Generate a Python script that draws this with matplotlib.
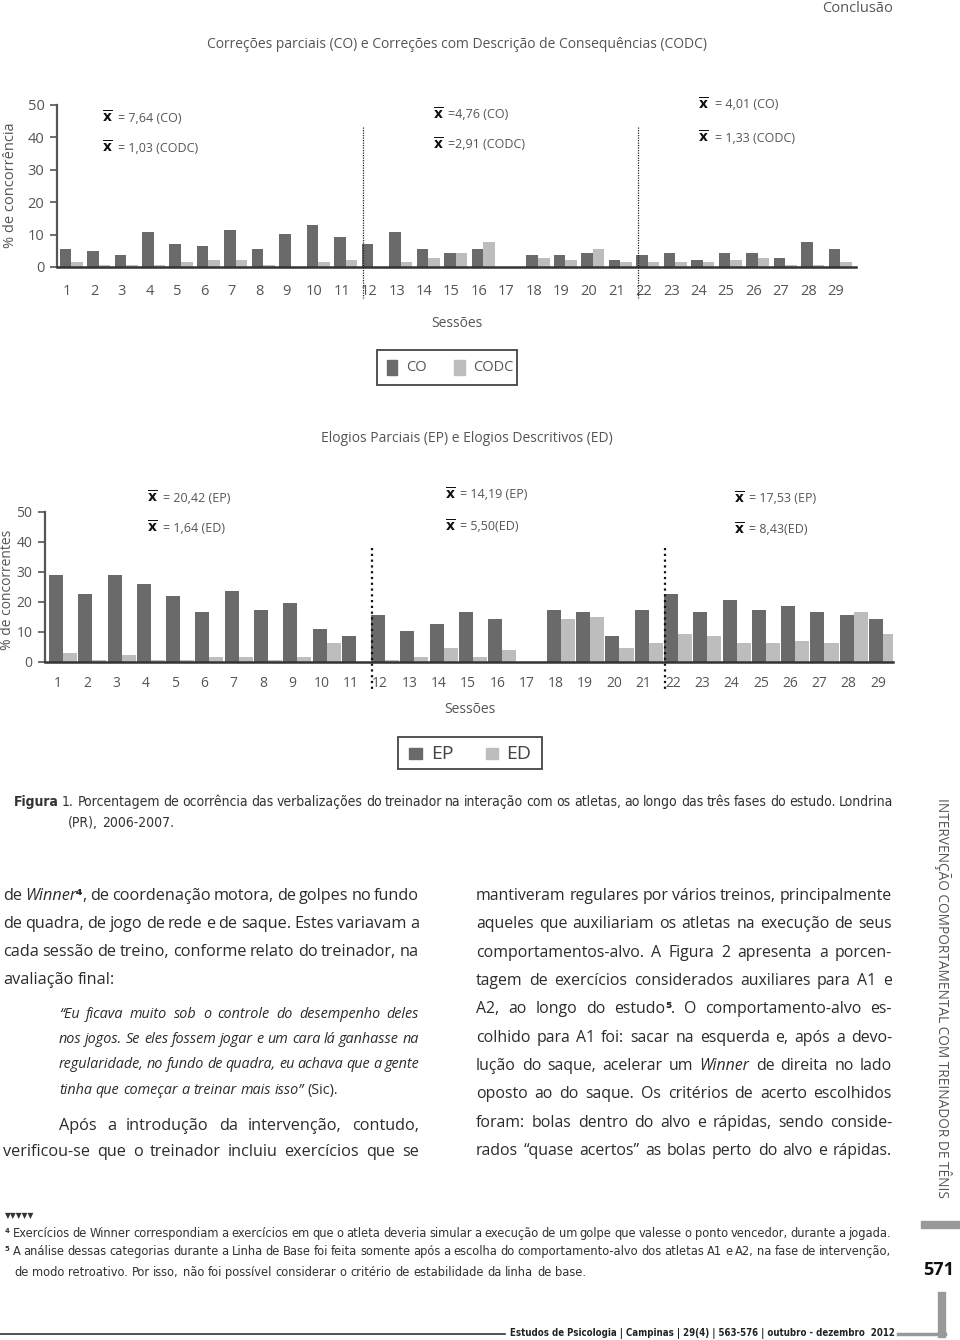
import matplotlib
matplotlib.use('Agg')
import matplotlib.pyplot as plt
from matplotlib import font_manager
from matplotlib.patches import Rectangle
from matplotlib.lines import Line2D
import numpy as np

# ---------------- data ----------------
sessions = list(range(1, 30))
co = [5.7, 4.9, 3.6, 10.7, 7.2, 6.5, 11.4, 5.7, 10.1, 12.9, 9.3, 7.2, 10.7, 5.7, 4.3,
      5.7, 0.0, 3.6, 3.6, 4.3, 2.2, 3.6, 4.3, 2.2, 4.3, 4.3, 2.9, 7.8, 5.7]
codc = [1.5, 0.7, 0.7, 0.7, 1.5, 2.2, 2.2, 0.7, 0.0, 1.5, 2.2, 0.0, 1.5, 2.9, 4.3,
        7.8, 0.0, 2.9, 2.2, 5.7, 1.4, 1.4, 1.4, 1.4, 2.2, 2.9, 0.7, 0.7, 1.4]
ep = [29.0, 22.8, 29.0, 25.9, 21.9, 16.5, 23.6, 17.3, 19.6, 11.0, 8.6, 15.7, 10.2, 12.6, 16.5,
      14.2, 0.0, 17.3, 16.5, 8.6, 17.3, 22.7, 16.5, 20.5, 17.3, 18.8, 16.5, 15.7, 14.2]
ed = [3.1, 0.8, 2.3, 0.8, 0.8, 1.5, 1.5, 0.8, 1.5, 6.2, 0.0, 0.8, 1.5, 4.6, 1.5,
      3.9, 0.0, 14.2, 14.9, 4.6, 6.2, 9.4, 8.6, 6.2, 6.2, 7.0, 6.2, 16.5, 9.4]
yticks = [0, 10, 20, 30, 40, 50]
phase_breaks = [11.5, 21.5]
means_top = [("= 7,64 (CO)", "= 1,03 (CODC)"), ("=4,76 (CO)", "=2,91 (CODC)"), ("= 4,01 (CO)", "= 1,33 (CODC)")]
means_bot = [("= 20,42 (EP)", "= 1,64 (ED)"), ("= 14,19 (EP)", "= 5,50(ED)"), ("= 17,53 (EP)", "= 8,43(ED)")]

W, H = 960, 1340
DARK = '#6a6a6a'
LIGHT = '#bdbdbd'
GRAY = '#555555'
TXT = '#2b2b2b'

avail = {f.name for f in font_manager.fontManager.ttflist}
def pick(*names):
    for n in names:
        if n in avail:
            return n
    return 'DejaVu Sans'
BODY = pick('Open Sans', 'Noto Sans', 'Lato')
FAM = [BODY, 'DejaVu Sans']
if 'Liberation Sans Narrow' in avail:
    COND = dict(family=['Liberation Sans Narrow', 'DejaVu Sans'])
else:
    has_dvc = any(f.name == 'DejaVu Sans' and f.stretch == 'condensed' for f in font_manager.fontManager.ttflist)
    if has_dvc:
        COND = dict(family=['DejaVu Sans'], fontstretch='condensed')
    else:
        COND = dict(family=FAM)

plt.rcParams['font.family'] = FAM
fig = plt.figure(figsize=(W / 100, H / 100), dpi=100)
fig.patch.set_facecolor('white')
renderer = fig.canvas.get_renderer()

def fx(x): return x / W
def fy(y): return 1 - y / H

def T(x, y, s, **kw):
    kw.setdefault('family', FAM)
    return fig.text(fx(x), fy(y), s, **kw)

STY = {'n': {}, 'i': {'style': 'italic'}, 'b': {'weight': 'bold'}}

def measure(s, **kw):
    t = fig.text(0, 0, s, **kw)
    w = t.get_window_extent(renderer).width
    t.remove()
    return w

def parse(segs):
    words, cur = [], []
    for txt, st in segs:
        parts = txt.split(' ')
        for k, p in enumerate(parts):
            if k > 0 and cur:
                words.append(cur)
                cur = []
            if p:
                cur.append((p, st))
    if cur:
        words.append(cur)
    return words

def layout(segs, size, base):
    words = parse(segs)
    pw = [[measure(p, fontsize=size, **base, **STY[st]) for p, st in w] for w in words]
    sp = measure('a a', fontsize=size, **base) - 2 * measure('a', fontsize=size, **base)
    return words, pw, sp

def fit_size(segs, x0, x1, size, base, mingap=0.68):
    while size > 5:
        words, pw, sp = layout(segs, size, base)
        if sum(sum(a) for a in pw) + mingap * sp * (len(words) - 1) <= (x1 - x0):
            break
        size *= 0.985
    return size

def draw(segs, x0, x1, y, size, just, base, color):
    words, pw, sp = layout(segs, size, base)
    total = sum(sum(a) for a in pw)
    gap = (x1 - x0 - total) / (len(words) - 1) if (just and len(words) > 1) else sp
    x = x0
    for w, a in zip(words, pw):
        for (p, st), pwid in zip(w, a):
            fig.text(fx(x), fy(y), p, fontsize=size, va='baseline', ha='left', color=color, **base, **STY[st])
            x += pwid
        x += gap

def block(specs, size, base=None, color=TXT):
    """specs: list of (segs, x0, x1, y, justify). Uniform font size across the block."""
    base = dict(base or dict(family=FAM))
    s = size
    for segs, x0, x1, y, just in specs:
        if just:
            s = min(s, fit_size(segs, x0, x1, size, base))
    for segs, x0, x1, y, just in specs:
        draw(segs, x0, x1, y, s, just, base, color)

def fit(s, x0, x1, y, size, base=None, color=TXT, **kw):
    base = dict(base or dict(family=FAM))
    w = measure(s, fontsize=size, **base, **kw)
    size = size * (x1 - x0) / w
    return fig.text(fx(x0), fy(y), s, fontsize=size, va='baseline', ha='left', color=color, **base, **kw)

# ---------------- header ----------------
T(893, 8, "Conclusão", ha='right', va='center', fontsize=10.5, color=GRAY)
T(457, 45, "Correções parciais (CO) e Correções com Descrição de Consequências (CODC)",
  ha='center', va='center', fontsize=10, color=GRAY)

def style_axes(ax, ls):
    for s in ('top', 'right'):
        ax.spines[s].set_visible(False)
    ax.spines['left'].set_color('#555555')
    ax.spines['left'].set_linewidth(1.6)
    ax.spines['bottom'].set_color('#333333')
    ax.spines['bottom'].set_linewidth(1.8)
    ax.set_ylim(0, 50)
    ax.set_yticks(yticks)
    ax.set_xticks(sessions)
    ax.set_xticklabels([str(s) for s in sessions])
    ax.tick_params(axis='x', length=0, labelsize=ls, labelcolor=GRAY)
    ax.tick_params(axis='y', length=5, width=1.2, color='#555555', labelsize=ls, labelcolor=GRAY, pad=4)
    ax.set_facecolor('none')

# ---------------- chart 1 ----------------
ax1 = fig.add_axes([fx(57), fy(267), (856 - 57) / W, (267 - 105) / H])
x = np.array(sessions, dtype=float)
w1 = 0.42
ax1.bar(x - 0.06, co, width=w1, color=DARK, label='CO')
ax1.bar(x - 0.06 + w1, codc, width=w1, color=LIGHT, label='CODC')
style_axes(ax1, 10.5)
ax1.set_xlim(0.636, 29.73)
ax1.tick_params(axis='x', pad=12)
for b in phase_breaks:
    ax1.plot([b + 0.28, b + 0.28], [43.2, -9.6], color='#222222', lw=0.9, ls=(0, (1, 1)), clip_on=False)
T(11, 185, "% de concorrência", rotation=90, ha='center', va='center', fontsize=10.5, color=GRAY)
for (xs, xt, ya, yb), (ta, tb) in zip([(107, 118, 118, 148), (438, 448, 115, 145), (703, 715, 105, 138)], means_top):
    T(xs, ya, r'$\overline{\mathbf{x}}$', ha='center', va='center', fontsize=10, color='#111111')
    T(xs, yb, r'$\overline{\mathbf{x}}$', ha='center', va='center', fontsize=10, color='#111111')
    T(xt, ya, ta, ha='left', va='center', fontsize=9, color=GRAY)
    T(xt, yb, tb, ha='left', va='center', fontsize=9, color=GRAY)
T(457, 324, "Sessões", ha='center', va='center', fontsize=10, color=GRAY)
fig.add_artist(Rectangle((fx(377), fy(385)), 140 / W, 35 / H, transform=fig.transFigure,
                         fill=False, edgecolor='#444444', lw=1.3))
fig.add_artist(Rectangle((fx(387), fy(375)), 10 / W, 15 / H, transform=fig.transFigure, color=DARK))
fig.add_artist(Rectangle((fx(454), fy(375)), 11 / W, 15 / H, transform=fig.transFigure, color=LIGHT))
T(406, 368, "CO", ha='left', va='center', fontsize=10.5, color=GRAY)
T(473, 368, "CODC", ha='left', va='center', fontsize=10.5, color=GRAY)

# ---------------- chart 2 ----------------
T(467, 438, "Elogios Parciais (EP) e Elogios Descritivos (ED)", ha='center', va='center', fontsize=10, color=GRAY)
ax2 = fig.add_axes([fx(45), fy(662), (893 - 45) / W, 150 / H])
w2 = 0.48
ax2.bar(x - 0.07, ep, width=w2, color=DARK, label='EP')
ax2.bar(x - 0.07 + w2, ed, width=w2, color=LIGHT, label='ED')
style_axes(ax2, 10)
ax2.set_xlim(0.556, 29.51)
ax2.tick_params(axis='x', pad=10)
for b in phase_breaks:
    ax2.plot([b + 0.22, b + 0.22], [38, -9.3], color='#111111', lw=1.6, ls=(0, (1, 1.6)), clip_on=False)
T(8, 590, "% de concorrentes", rotation=90, ha='center', va='center', fontsize=10, color=GRAY)
for (xs, xt, ya, yb), (ta, tb) in zip([(152, 163, 498, 528), (450, 460, 495, 527), (739, 749, 499, 530)], means_bot):
    T(xs, ya, r'$\overline{\mathbf{x}}$', ha='center', va='center', fontsize=10, color='#111111')
    T(xs, yb, r'$\overline{\mathbf{x}}$', ha='center', va='center', fontsize=10, color='#111111')
    T(xt, ya, ta, ha='left', va='center', fontsize=9, color=GRAY)
    T(xt, yb, tb, ha='left', va='center', fontsize=9, color=GRAY)
T(470, 709, "Sessões", ha='center', va='center', fontsize=10, color=GRAY)
fig.add_artist(Rectangle((fx(398), fy(769)), 144 / W, 32 / H, transform=fig.transFigure,
                         fill=False, edgecolor='#444444', lw=1.3))
fig.add_artist(Rectangle((fx(409), fy(759)), 13 / W, 11 / H, transform=fig.transFigure, color=DARK))
fig.add_artist(Rectangle((fx(486), fy(759)), 12 / W, 11 / H, transform=fig.transFigure, color=LIGHT))
T(431, 754, "EP", ha='left', va='center', fontsize=14, color='#444444')
T(506, 754, "ED", ha='left', va='center', fontsize=14, color='#444444')

# ---------------- caption ----------------
block([([("Figura", 'b'), (" 1. Porcentagem de ocorrência das verbalizações do treinador na interação com os atletas, ao longo das três fases do estudo. Londrina", 'n')], 14, 893, 806, True),
       ([("(PR), 2006-2007.", 'n')], 68, 893, 827, False)],
      11.8, base=COND, color='#333333')

# ---------------- body text ----------------
BS = 12.2
L0, L1 = 3, 419
block([
    ([("de ", 'n'), ("Winner", 'i'), ("⁴", 'b'), (", de coordenação motora, de golpes no fundo", 'n')], L0, L1, 900, True),
    ([("de quadra, de jogo de rede e de saque. Estes variavam a", 'n')], L0, L1, 928, True),
    ([("cada sessão de treino, conforme relato do treinador, na", 'n')], L0, L1, 956, True),
    ([("avaliação final:", 'n')], L0, L1, 984, False),
    ([("Após a introdução da intervenção, contudo,", 'n')], 59, L1, 1130, True),
    ([("verificou-se que o treinador incluiu exercícios que se", 'n')], L0, L1, 1156, True),
], BS)
block([
    ([("“Eu ficava muito sob o controle do desempenho deles", 'i')], 59, L1, 1018, True),
    ([("nos jogos. Se eles fossem jogar e um cara lá ganhasse na", 'i')], 59, L1, 1043, True),
    ([("regularidade, no fundo de quadra, eu achava que a gente", 'i')], 59, L1, 1068, True),
    ([("tinha que começar a treinar mais isso”", 'i'), (" (Sic).", 'n')], 59, L1, 1094, False),
], 11.2)

R0, R1 = 476, 892
right_lines = [
    [("mantiveram regulares por vários treinos, principalmente", 'n')],
    [("aqueles que auxiliariam os atletas na execução de seus", 'n')],
    [("comportamentos-alvo. A Figura 2 apresenta a porcen-", 'n')],
    [("tagem de exercícios considerados auxiliares para A1 e", 'n')],
    [("A2, ao longo do estudo", 'n'), ("⁵", 'b'), (". O comportamento-alvo es-", 'n')],
    [("colhido para A1 foi: sacar na esquerda e, após a devo-", 'n')],
    [("lução do saque, acelerar um ", 'n'), ("Winner", 'i'), (" de direita no lado", 'n')],
    [("oposto ao do saque. Os critérios de acerto escolhidos", 'n')],
    [("foram: bolas dentro do alvo e rápidas, sendo conside-", 'n')],
    [("rados “quase acertos” as bolas perto do alvo e rápidas.", 'n')],
]
ry = [900, 928, 957, 985, 1013, 1042, 1070, 1098, 1127, 1155]
block([(segs, R0, R1, yy, True) for segs, yy in zip(right_lines, ry)], BS)

# ---------------- right margin ----------------
vt = T(943, 998, "INTERVENÇÃO COMPORTAMENTAL COM TREINADOR DE TÊNIS", rotation=-90,
       ha='center', va='center', fontsize=10, color=GRAY)
vw = vt.get_window_extent(renderer).height
vt.set_fontsize(10 * 397 / vw)
fig.add_artist(Rectangle((fx(921), fy(1228)), 39 / W, 7 / H, transform=fig.transFigure, color='#999999'))
T(939, 1270, "571", ha='center', va='center', fontsize=13, weight='bold', color='#111111')
fig.add_artist(Line2D([fx(942), fx(942)], [fy(1296), fy(1334)], transform=fig.transFigure, color='#999999', lw=6))
fig.add_artist(Line2D([fx(898), fx(945)], [fy(1334), fy(1334)], transform=fig.transFigure, color='#999999', lw=2.5))

# ---------------- footnotes ----------------
T(5, 1216, "▼▼▼▼▼", ha='left', va='center', fontsize=5.5, color='#333333', family=['DejaVu Sans'])
block([
    ([("⁴", 'b'), (" Exercícios de Winner correspondiam a exercícios em que o atleta deveria simular a execução de um golpe que valesse o ponto vencedor, durante a jogada.", 'n')], 5, 891, 1237, True),
    ([("⁵", 'b'), (" A análise dessas categorias durante a Linha de Base foi feita somente após a escolha do comportamento-alvo dos atletas A1 e A2, na fase de intervenção,", 'n')], 5, 891, 1255, True),
    ([("de modo retroativo. Por isso, não foi possível considerar o critério de estabilidade da linha de base.", 'n')], 14, 891, 1276, False),
], 11, base=COND, color='#333333')

# ---------------- footer ----------------
fig.add_artist(Line2D([0, fx(505)], [fy(1334), fy(1334)], transform=fig.transFigure, color='#333333', lw=1.2))
fit("Estudos de Psicologia | Campinas | 29(4) | 563-576 | outubro - dezembro  2012",
    510, 893, 1336, 9, base=COND, color='#222222', weight='bold')

fig.savefig('out.png', dpi=100, facecolor='white')
